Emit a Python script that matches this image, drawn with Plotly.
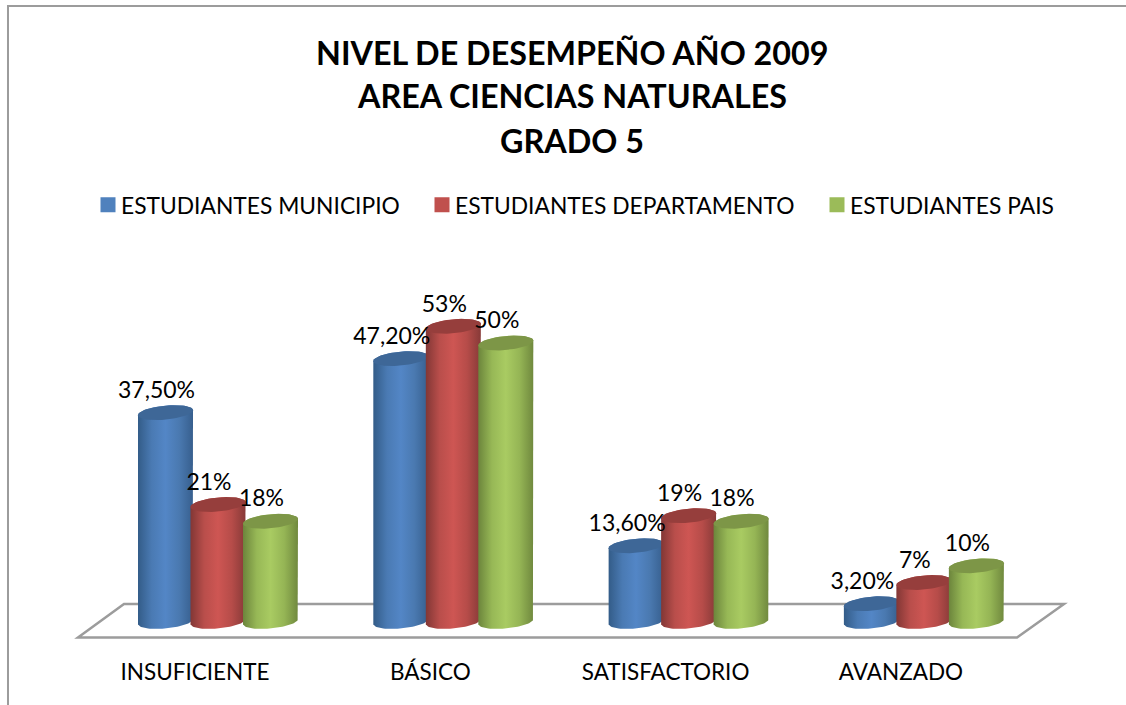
import numpy as np
import plotly.graph_objects as go

WIDTH = 1126
HEIGHT = 705
FONT = "Lato"
GREY = "#9C9C9C"

categories = ["INSUFICIENTE", "BÁSICO", "SATISFACTORIO", "AVANZADO"]
municipio = [37.5, 47.2, 13.6, 3.2]
departamento = [21, 53, 19, 7]
pais = [18, 50, 18, 10]
municipio_labels = ["37,50%", "47,20%", "13,60%", "3,20%"]
departamento_labels = ["21%", "53%", "19%", "7%"]
pais_labels = ["18%", "50%", "18%", "10%"]
title_lines = ["NIVEL DE DESEMPEÑO AÑO 2009", "AREA CIENCIAS NATURALES", "GRADO 5"]

series = [
    dict(
        name="ESTUDIANTES MUNICIPIO",
        values=municipio,
        labels=municipio_labels,
        color="#4F81BD",
        cap="#3E6797",
        shade=["#335C88", "#4A7AB3", "#5386C6", "#4A79B0", "#375F8E"],
        legend="legend",
        legend_x=81,
    ),
    dict(
        name="ESTUDIANTES DEPARTAMENTO",
        values=departamento,
        labels=departamento_labels,
        color="#C0504D",
        cap="#963E3C",
        shade=["#823735", "#B94E4B", "#CE5653", "#B64C49", "#873A38"],
        legend="legend2",
        legend_x=415,
    ),
    dict(
        name="ESTUDIANTES PAIS",
        values=pais,
        labels=pais_labels,
        color="#9BBB59",
        cap="#7D9647",
        shade=["#6C853C", "#97B856", "#A9CB62", "#95B555", "#70893E"],
        legend="legend3",
        legend_x=810,
    ),
]

# axis scales, in pixels of the page
PLOT_BOTTOM = 645
PX_PER_GROUP = 235.3
PX_PER_PCT = 5.57
LABEL_X0 = 195
BASE_Y = 621.5

X_RANGE = [-LABEL_X0 / PX_PER_GROUP, (WIDTH - LABEL_X0) / PX_PER_GROUP]
Y_RANGE = [(BASE_Y - PLOT_BOTTOM) / PX_PER_PCT, BASE_Y / PX_PER_PCT]

# cylinder geometry, converted to axis units
GROUP_SHIFT = 23 / PX_PER_GROUP
SERIES_STEP = 52.5 / PX_PER_GROUP
HALF_W = 27.5 / PX_PER_GROUP
HALF_H = 7 / PX_PER_PCT
TILT = 2.5 / PX_PER_PCT
LABEL_SHIFT = -9 / PX_PER_GROUP
LABEL_RISE = 9 / PX_PER_PCT


def _arc(cx, cy, t):
    """Points of the tilted ellipse centred on (cx, cy)."""
    return cx + HALF_W * np.cos(t), cy + TILT * np.cos(t) - HALF_H * np.sin(t)


def _paper(px, py):
    return px / WIDTH, (PLOT_BOTTOM - py) / PLOT_BOTTOM


def _cylinder(cx, value, s):
    """Body with horizontal shading, plus the flat cap on top."""
    # body runs along the back of the top ellipse, the cap hides that part
    top_x, top_y = _arc(cx, value, np.linspace(np.pi, 2 * np.pi, 40))
    low_x, low_y = _arc(cx, 0, np.linspace(0, np.pi, 40))
    stops = np.linspace(0, 1, len(s["shade"]))
    body = go.Scatter(
        x=np.concatenate([top_x, low_x]),
        y=np.concatenate([top_y, low_y]),
        mode="lines",
        fill="toself",
        fillgradient=dict(
            type="horizontal",
            colorscale=[[float(p), c] for p, c in zip(stops, s["shade"])],
        ),
        line=dict(width=0),
        hoverinfo="skip",
        showlegend=False,
    )
    whole = np.linspace(0, 2 * np.pi, 60)
    cap_x, cap_y = _arc(cx, value, whole)
    cap = go.Scatter(
        x=cap_x,
        y=cap_y,
        mode="lines",
        fill="toself",
        fillcolor=s["cap"],
        line=dict(width=0),
        hoverinfo="skip",
        showlegend=False,
    )
    return [body, cap]


fig = go.Figure()

# 1. Cylinders, later series drawn over earlier ones
for i in range(len(categories)):
    for j, s in enumerate(series):
        cx = i + GROUP_SHIFT + (j - 1) * SERIES_STEP
        fig.add_traces(_cylinder(cx, s["values"][i], s))

# 2. Legend entries, one legend each because the gaps between them differ.
# angle + standoff nudges the swatch towards its text
for s in series:
    fig.add_trace(
        go.Scatter(
            x=[None],
            y=[None],
            mode="markers",
            name=s["name"],
            legend=s["legend"],
            marker=dict(symbol="square", size=15, color=s["color"], angle=90, standoff=7),
        )
    )

# 3. Data labels on top of every cylinder
for j, s in enumerate(series):
    fig.add_trace(
        go.Scatter(
            x=[i + GROUP_SHIFT + (j - 1) * SERIES_STEP + LABEL_SHIFT for i in range(len(categories))],
            y=[v + LABEL_RISE for v in s["values"]],
            mode="text",
            text=s["labels"],
            textposition="top center",
            textfont=dict(family=FONT, size=23, color="#000000"),
            hovertemplate=s["name"] + "<br>%{text}<extra></extra>",
            showlegend=False,
        )
    )

# floor of the 3D chart
floor = [_paper(78, 637.5), _paper(1017, 637.5), _paper(1064, 604), _paper(124, 604)]
floor_path = "M" + " L".join(f"{x:.5f},{y:.5f}" for x, y in floor) + " Z"
frame = [_paper(8, 705), _paper(8, 6), _paper(1126, 6)]
frame_path = "M" + " L".join(f"{x:.5f},{y:.5f}" for x, y in frame)

title_y = [52, 95, 140]
annotations = [
    dict(
        text=line,
        xref="paper",
        yref="paper",
        x=572 / WIDTH,
        y=_paper(0, py)[1],
        xanchor="center",
        yanchor="middle",
        showarrow=False,
        font=dict(family=FONT, size=32.3, color="#000000", weight="bold"),
    )
    for line, py in zip(title_lines, title_y)
]

fig.update_layout(
    width=WIDTH,
    height=HEIGHT,
    margin=dict(l=0, r=0, t=0, b=HEIGHT - PLOT_BOTTOM),
    paper_bgcolor="#FFFFFF",
    plot_bgcolor="#FFFFFF",
    font=dict(family=FONT, color="#000000"),
    annotations=annotations,
    shapes=[
        dict(
            type="path",
            path=floor_path,
            xref="paper",
            yref="paper",
            line=dict(color=GREY, width=2.5),
            layer="below",
        ),
        dict(
            type="path",
            path=frame_path,
            xref="paper",
            yref="paper",
            line=dict(color=GREY, width=2),
            layer="below",
        ),
    ],
)
for s in series:
    fig.update_layout(
        {
            s["legend"]: dict(
                orientation="h",
                x=s["legend_x"] / WIDTH,
                xanchor="left",
                y=_paper(0, 205)[1],
                yanchor="middle",
                font=dict(family=FONT, size=22.8),
                bgcolor="rgba(0,0,0,0)",
            )
        }
    )
fig.update_xaxes(
    range=X_RANGE,
    tickmode="array",
    tickvals=list(range(len(categories))),
    ticktext=categories,
    tickfont=dict(family=FONT, size=22.5, color="#000000"),
    showgrid=False,
    zeroline=False,
    showline=False,
    ticks="",
    ticklabelstandoff=11,
)
fig.update_yaxes(range=Y_RANGE, visible=False)

# the page's default body margin would push the chart 8px off
fig.write_html(
    "out.html",
    config=dict(displayModeBar=False),
    post_script="document.body.style.margin='0';",
)
